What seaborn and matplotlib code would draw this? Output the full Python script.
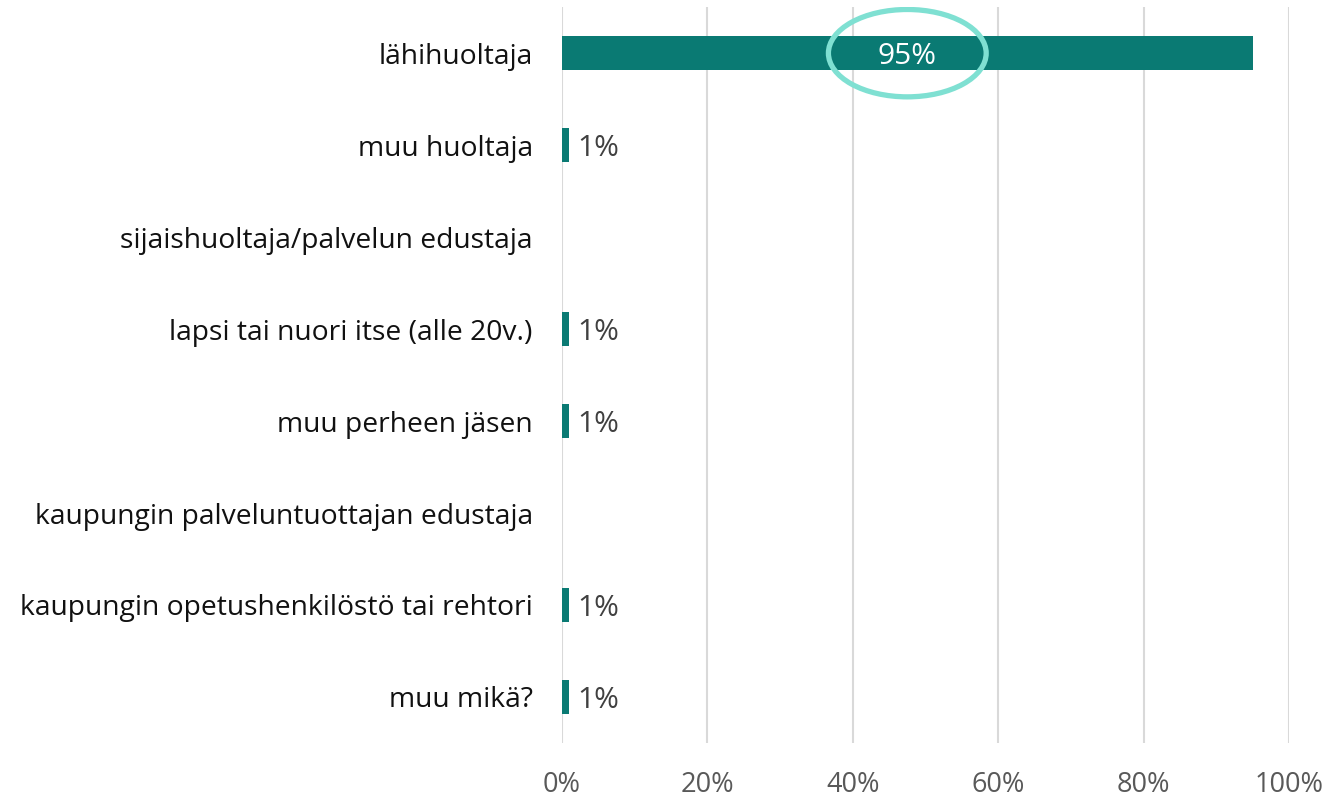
import pandas as pd
import seaborn as sns
import matplotlib.pyplot as plt
from matplotlib.patches import Ellipse

categories = [
    "lähihuoltaja",
    "muu huoltaja",
    "sijaishuoltaja/palvelun edustaja",
    "lapsi tai nuori itse (alle 20v.)",
    "muu perheen jäsen",
    "kaupungin palveluntuottajan edustaja",
    "kaupungin opetushenkilöstö tai rehtori",
    "muu mikä?",
]
values = [95, 1, 0, 1, 1, 0, 1, 1]
x_ticks = [0, 20, 40, 60, 80, 100]

df = pd.DataFrame({"category": categories, "value": values})

sns.set_theme(style="white")
plt.rcParams['font.family'] = ['Open Sans', 'DejaVu Sans']

fig = plt.figure(figsize=(13.32, 7.98), dpi=100)
ax = fig.add_axes([0.4219, 0.069, 0.5458, 0.922])

sns.barplot(data=df, x="value", y="category", orient="h", color="#0a7a73",
            saturation=1, width=0.37, linewidth=0, edgecolor="none",
            ax=ax, zorder=3)

ax.set_xlim(0, 100)
ax.set_xticks(x_ticks)
ax.set_xticklabels([f"{t}%" for t in x_ticks], fontsize=19.5, color="#595959")
ax.tick_params(axis="x", length=0, pad=20)
ax.tick_params(axis="y", length=0, pad=21, labelsize=20.3, labelcolor="#111111")
ax.set_xlabel("")
ax.set_ylabel("")
ax.grid(axis="x", color="#d9d9d9", linewidth=1.5, zorder=0)
ax.set_axisbelow(True)
for s in ax.spines.values():
    s.set_visible(False)

# value labels: inside the long bar, to the right of the short ones
for i, v in enumerate(values):
    if v == 0:
        continue
    if v > 50:
        ax.text(v / 2, i, f"{v}%", ha="center", va="center_baseline",
                color="white", fontsize=21.5, zorder=5)
    else:
        ax.text(v + 1.1, i, f"{v}%", ha="left", va="center_baseline",
                color="#404040", fontsize=21.5, zorder=5)

# highlight ring around the main value
ax.add_patch(Ellipse((values[0] / 2, 0), 21.7, 0.95, fill=False,
                     edgecolor="#7fe0d2", linewidth=3.8, zorder=6))

fig.savefig("out.png", dpi=100)
